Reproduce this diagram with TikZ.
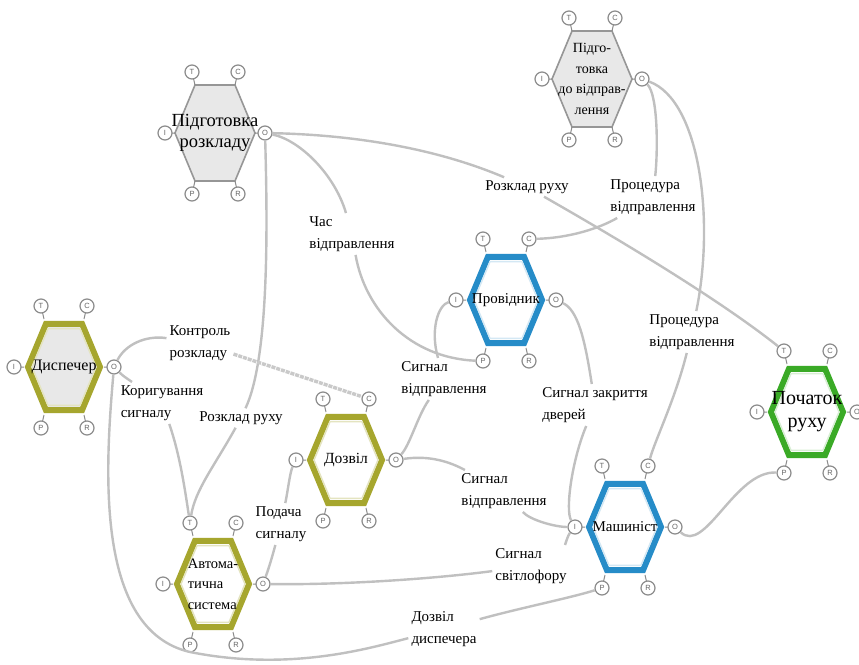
\documentclass[tikz,border=0pt]{standalone}
\usepackage{fontspec}
\setmainfont{Liberation Serif}
\setsansfont{Liberation Sans}
\definecolor{linegray}{RGB}{192,192,192}
\definecolor{portgray}{RGB}{140,140,140}
\definecolor{hexgray}{RGB}{150,150,150}
\definecolor{hexfill}{RGB}{232,232,232}
\definecolor{olivec}{RGB}{166,166,46}
\definecolor{bluec}{RGB}{38,140,200}
\definecolor{greenc}{RGB}{58,170,38}
\tikzset{
 conn/.style={draw=linegray, line width=2.4pt},
 connctl/.style={draw=linegray!85, line width=3.4pt, dash pattern=on 4pt off 1pt},
 port/.style={circle, draw=portgray, line width=1.2pt, fill=white, minimum size=14pt, inner sep=0pt, font=\sffamily\fontsize{7.5}{8}\selectfont, text=black!60},
 stub/.style={draw=portgray, line width=1pt},
 hxgray/.style={draw=hexgray, line width=1.6pt, fill=hexfill, line join=miter},
 hxolive/.style={draw=olivec, line width=6pt, fill=white, scale=0.9, line join=miter},
 hxolivegray/.style={hxolive, fill=hexfill},
 hxblue/.style={draw=bluec, line width=6pt, fill=white, scale=0.9, line join=miter},
 hxgreen/.style={draw=greenc, line width=6pt, fill=white, scale=0.9, line join=miter},
 inolive/.style={draw=olivec!30, line width=1.5pt, scale=0.8},
 inblue/.style={draw=bluec!20, line width=1.5pt, scale=0.8},
 ingreen/.style={draw=greenc!20, line width=1.5pt, scale=0.8},
 innone/.style={draw=none},
 fntxt/.style={align=center, inner sep=0pt, font=\fontsize{15}{20}\selectfont},
 lbl/.style={align=left, inner sep=3pt, font=\fontsize{15}{22.5}\selectfont},
}
\newcommand\framfn[7]{%
\begin{scope}[shift={(#2,#3)}]
 \draw[#4] (-40,0) -- (-20,-48) -- (20,-48) -- (40,0) -- (20,48) -- (-20,48) -- cycle;
 \draw[#5] (-40,0) -- (-20,-48) -- (20,-48) -- (40,0) -- (20,48) -- (-20,48) -- cycle;
 \draw[stub] (-40,0) -- (-50,0) (40,0) -- (50,0) (-20,-48) -- (-23,-61) (20,-48) -- (23,-61) (-20,48) -- (-23,61) (20,48) -- (23,61);
 \node[port] (#1-T) at (-23,-61) {T};
 \node[port] (#1-C) at (23,-61) {C};
 \node[port] (#1-I) at (-50,0) {I};
 \node[port] (#1-O) at (50,0) {O};
 \node[port] (#1-P) at (-23,61) {P};
 \node[port] (#1-R) at (23,61) {R};
 \node[fntxt,#6] (#1) at (0,0) {#7};
\end{scope}}
\begin{document}
\begin{tikzpicture}[x=1pt,y=-1pt]
\fill[white] (0,0) rectangle (859,664);
\useasboundingbox (0,0) rectangle (859,664);

% functions
\framfn{pr}{215}{133}{hxgray}{innone}{font=\fontsize{18.5}{21}\selectfont}{Підготовка\\розкладу}
\framfn{ppv}{592}{79}{hxgray}{innone}{font=\fontsize{14}{20.5}\selectfont}{Підго-\\товка\\до відправ-\\лення}
\framfn{di}{64}{367}{hxolivegray}{inolive}{font=\fontsize{16}{20}\selectfont}{Диспечер}
\framfn{pv}{506}{300}{hxblue}{inblue}{font=\fontsize{15}{20}\selectfont}{Провідник}
\framfn{do}{346}{460}{hxolive}{inolive}{font=\fontsize{15.5}{20}\selectfont}{Дозвіл}
\framfn{at}{213}{584}{hxolive}{inolive}{align=left,font=\fontsize{14.5}{20.5}\selectfont}{Автома-\\тична\\система}
\framfn{ma}{625}{527}{hxblue}{inblue}{font=\fontsize{15}{20}\selectfont}{Машиніст}
\framfn{pp}{807}{412}{hxgreen}{ingreen}{font=\fontsize{20}{23}\selectfont}{Початок\\руху}

% labels
\node[lbl] (L1) at (527,187) {Розклад руху};
\node[lbl] (L2) at (352,234) {Час\\відправлення};
\node[lbl] (L3) at (241,418) {Розклад руху};
\node[lbl] (L4) at (200,343) {Контроль\\розкладу};
\node[lbl] (L5) at (162,403) {Коригування\\сигналу};
\node[lbl] (L6) at (444,629) {Дозвіл\\диспечера};
\node[lbl] (L7) at (653,197) {Процедура\\відправлення};
\node[lbl] (L8) at (692,332) {Процедура\\відправлення};
\node[lbl] (L9) at (595,405) {Сигнал закриття\\дверей};
\node[lbl] (L10) at (444,379) {Сигнал\\відправлення};
\node[lbl] (L11) at (504,491) {Сигнал\\відправлення};
\node[lbl] (L12) at (531,566) {Сигнал\\світлофору};
\node[lbl] (L13) at (281,524) {Подача\\сигналу};

% connectors
\draw[conn] (pr-O) .. controls (360,135) and (440,150) .. (L1);
\draw[conn] (L1) .. controls (620,240) and (720,300) .. (pp-T);
\draw[conn] (pr-O) .. controls (300,140) and (335,175) .. (L2);
\draw[conn] (L2) .. controls (365,310) and (410,358) .. (pv-P);
\draw[conn] (pr-O) .. controls (268,240) and (268,360) .. (L3);
\draw[conn] (L3) .. controls (215,465) and (195,490) .. (at-T);
\draw[conn] (di-O) .. controls (125,345) and (145,335) .. (L4);
\draw[connctl] (L4) -- (do-C);
\draw[conn] (di-O) .. controls (122,375) .. (L5);
\draw[conn] (L5) .. controls (180,455) and (185,490) .. (at-T);
\draw[conn] (di-O) .. controls (105,470) and (95,630) .. (190,652) .. controls (290,672) and (370,648) .. (L6);
\draw[conn] (L6) .. controls (520,608) and (570,598) .. (ma-P);
\draw[conn] (ppv-O) .. controls (658,95) and (658,150) .. (L7);
\draw[conn] (L7) .. controls (600,228) and (570,238) .. (pv-C);
\draw[conn] (ppv-O) .. controls (700,100) and (715,220) .. (L8);
\draw[conn] (L8) .. controls (675,400) and (655,440) .. (ma-C);
\draw[conn] (pv-O) .. controls (578,310) and (585,340) .. (L9);
\draw[conn] (L9) .. controls (572,460) and (565,510) .. (ma-I);
\draw[conn] (do-O) .. controls (410,445) and (418,415) .. (L10);
\draw[conn] (L10) .. controls (430,330) and (438,305) .. (pv-I);
\draw[conn] (do-O) .. controls (430,455) and (450,462) .. (L11);
\draw[conn] (L11) .. controls (530,520) and (555,527) .. (ma-I);
\draw[conn] (at-O) .. controls (350,585) and (440,578) .. (L12);
\draw[conn] (L12) .. controls (565,545) and (568,535) .. (ma-I);
\draw[conn] (at-O) .. controls (270,565) and (274,550) .. (L13);
\draw[conn] (L13) .. controls (288,490) and (290,472) .. (do-I);
\draw[conn] (ma-O) .. controls (705,555) and (735,470) .. (pp-P);
\end{tikzpicture}
\end{document}
